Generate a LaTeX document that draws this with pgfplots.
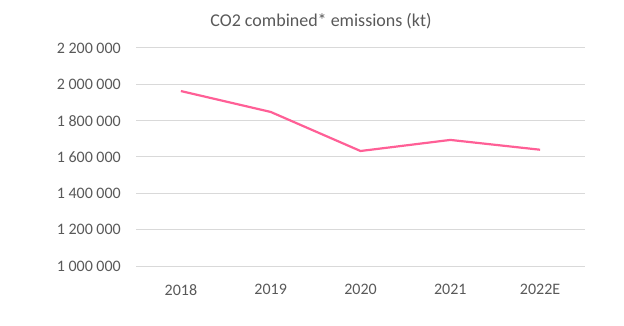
\documentclass[border=0pt]{standalone}
\usepackage{pgfplots}
\pgfplotsset{compat=1.18}
\usepackage{fontspec}
\setmainfont{Carlito}
\definecolor{txt}{HTML}{595959}
\definecolor{gridc}{HTML}{D9D9D9}
\definecolor{pinkline}{HTML}{FF5F96}
\begin{document}
\begin{tikzpicture}
\path[use as bounding box] (0,0) rectangle (624bp,326bp);
\begin{axis}[
  at={(136bp,60bp)}, anchor=south west,
  scale only axis, width=449bp, height=218bp,
  xmin=-0.5, xmax=4.5,
  ymin=1000000, ymax=2200000,
  ytick={1000000,1200000,1400000,1600000,1800000,2000000,2200000},
  yticklabels={1 000 000,1 200 000,1 400 000,1 600 000,1 800 000,2 000 000,2 200 000},
  xtick={0,1,2,3,4},
  xticklabels={2018,2019,2020,2021,2022E},
  scaled y ticks=false,
  axis line style={draw=none},
  major tick length=0pt,
  xmajorgrids=false, ymajorgrids=true,
  major grid style={draw=gridc, line width=1bp},
  tick label style={font=\fontsize{16bp}{19bp}\selectfont, text=txt},
  yticklabel style={anchor=east, inner sep=0pt, xshift=-15bp},
  xticklabel style={anchor=north, inner sep=0pt, yshift=-18bp},
  clip=false,
]
\addplot[pinkline, line width=2.2bp] coordinates {
  (0,1963000) (1,1848000) (2,1633000) (3,1694000) (4,1640000)
};
\end{axis}
\node[anchor=base, text=txt, font=\fontsize{18bp}{21bp}\selectfont, inner sep=0pt] at (321bp,299bp) {CO2 combined* emissions (kt)};
\end{tikzpicture}
\end{document}
